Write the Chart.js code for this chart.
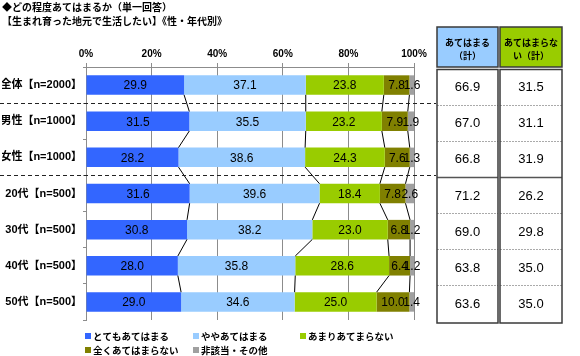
<!DOCTYPE html>
<html><head><meta charset="utf-8">
<script src="https://cdn.jsdelivr.net/npm/chart.js@4"></script>
<style>html,body{margin:0;padding:0;background:#fff}#wrap{width:580px;height:356px;position:relative}</style>
</head><body><div id="wrap"><canvas id="c" width="580" height="356"></canvas></div>
<script>
// ---- data ----
const titleLines = ['◆どの程度あてはまるか（単一回答）', '【生まれ育った地元で生活したい】《性・年代別》'];
const categories = ['全体【n=2000】', '男性【n=1000】', '女性【n=1000】', '20代【n=500】', '30代【n=500】', '40代【n=500】', '50代【n=500】'];
const seriesNames = ['とてもあてはまる', 'ややあてはまる', 'あまりあてまらない', '全くあてはまらない', '非該当・その他'];
const veryTrue = [29.9, 31.5, 28.2, 31.6, 30.8, 28.0, 29.0];
const somewhatTrue = [37.1, 35.5, 38.6, 39.6, 38.2, 35.8, 34.6];
const notReally = [23.8, 23.2, 24.3, 18.4, 23.0, 28.6, 25.0];
const notAtAll = [7.8, 7.9, 7.6, 7.8, 6.8, 6.4, 10.0];
const notApplicable = [1.6, 1.9, 1.3, 2.6, 1.2, 1.2, 1.4];
const xTickLabels = ['0%', '20%', '40%', '60%', '80%', '100%'];
const tableHeaders = [['あてはまる', '（計）'], ['あてはまらな', 'い（計）']];
const totalTrue = [66.9, 67.0, 66.8, 71.2, 69.0, 63.8, 63.6];
const totalNotTrue = [31.5, 31.1, 31.9, 26.2, 29.8, 35.0, 35.0];
const groupBreaks = [0, 2];

// ---- styles ----
const colors = ['#3366ff', '#99ccff', '#99cc00', '#808000', '#a0a0a0'];
const JP = "'Noto Sans CJK JP', sans-serif";
const MIX = "'Liberation Sans', 'Noto Sans CJK JP', sans-serif";

const barLabels = {
  id: 'barLabels',
  afterDatasetsDraw(chart) {
    const ctx = chart.ctx;
    ctx.save();
    ctx.font = "12px 'Liberation Sans', sans-serif";
    ctx.fillStyle = '#000';
    ctx.textAlign = 'center';
    ctx.textBaseline = 'middle';
    chart.data.datasets.forEach((ds, di) => {
      chart.getDatasetMeta(di).data.forEach((el, i) => {
        const p = el.getProps(['x', 'base', 'y'], true);
        ctx.fillText(ds.data[i].toFixed(1), (p.x + p.base) / 2, p.y + 1);
      });
    });
    ctx.restore();
  }
};

const connectors = {
  id: 'connectors',
  afterDatasetsDraw(chart) {
    const ctx = chart.ctx;
    ctx.save();
    ctx.strokeStyle = '#000';
    ctx.lineWidth = 1;
    for (let di = 0; di < chart.data.datasets.length - 1; di++) {
      const els = chart.getDatasetMeta(di).data;
      for (let i = 0; i < els.length - 1; i++) {
        const a = els[i].getProps(['x', 'y', 'height'], true);
        const b = els[i + 1].getProps(['x', 'y', 'height'], true);
        ctx.beginPath();
        ctx.moveTo(a.x, a.y + a.height / 2);
        ctx.lineTo(b.x, b.y - b.height / 2);
        ctx.stroke();
      }
    }
    ctx.restore();
  }
};

const separators = {
  id: 'separators',
  afterDatasetsDraw(chart) {
    const ctx = chart.ctx, ys = chart.scales.y;
    ctx.save();
    ctx.strokeStyle = '#222';
    ctx.lineWidth = 1;
    ctx.setLineDash([4, 3]);
    groupBreaks.forEach(i => {
      const y = Math.round((ys.getPixelForValue(i) + ys.getPixelForValue(i + 1)) / 2) + 0.5;
      ctx.beginPath();
      ctx.moveTo(0, y);
      ctx.lineTo(436, y);
      ctx.stroke();
    });
    ctx.restore();
  }
};

const table = {
  id: 'table',
  afterDraw(chart) {
    const ctx = chart.ctx, ys = chart.scales.y, ca = chart.chartArea;
    const step = ys.getPixelForValue(1) - ys.getPixelForValue(0);
    const cols = [
      { x0: 437, x1: 498, fill: '#99ccff', vals: totalTrue, head: tableHeaders[0] },
      { x0: 500, x1: 562, fill: '#99cc00', vals: totalNotTrue, head: tableHeaders[1] }
    ];
    const headTop = 27, headBot = ca.top;
    const bodyTop = ca.top + 2.5;
    const bodyBot = ys.getPixelForValue(categories.length - 1) + step / 2 + 3;
    ctx.save();
    cols.forEach(c => {
      const w = c.x1 - c.x0, cx = (c.x0 + c.x1) / 2;
      ctx.fillStyle = c.fill;
      ctx.fillRect(c.x0, headTop, w, headBot - headTop);
      ctx.strokeStyle = '#3a3a3a';
      ctx.lineWidth = 1.5;
      ctx.strokeRect(c.x0, headTop, w, headBot - headTop);
      ctx.fillStyle = '#000';
      ctx.font = "bold 9px " + JP;
      ctx.textAlign = 'center';
      ctx.textBaseline = 'middle';
      ctx.fillText(c.head[0], cx, headTop + 16);
      ctx.fillText(c.head[1], cx, headTop + 28.5);
      ctx.fillStyle = '#fff';
      ctx.fillRect(c.x0, bodyTop, w, bodyBot - bodyTop);
      // row separators
      for (let i = 0; i < categories.length - 1; i++) {
        const y = Math.round(ys.getPixelForValue(i) + step / 2 + 1.5) + 0.5;
        ctx.beginPath();
        if (i === 2) { ctx.setLineDash([]); ctx.strokeStyle = '#555'; ctx.lineWidth = 1.5; }
        else { ctx.setLineDash([2, 1]); ctx.strokeStyle = '#aaa'; ctx.lineWidth = 1; }
        ctx.moveTo(c.x0, y); ctx.lineTo(c.x1, y);
        ctx.stroke();
      }
      ctx.setLineDash([]);
      ctx.strokeStyle = '#3a3a3a';
      ctx.lineWidth = 1.5;
      ctx.strokeRect(c.x0, bodyTop, w, bodyBot - bodyTop);
      ctx.fillStyle = '#000';
      ctx.font = "13px 'Liberation Sans', sans-serif";
      c.vals.forEach((v, i) => {
        ctx.fillText(v.toFixed(1), cx, ys.getPixelForValue(i) + 2.5);
      });
    });
    ctx.restore();
  }
};

const legendBoxes = {
  id: 'legendBoxes',
  afterDraw(chart) {
    const ctx = chart.ctx;
    const colXs = [85, 193, 300], rowYs = [336, 350];
    ctx.save();
    ctx.font = "bold 9.5px " + JP;
    ctx.textAlign = 'left';
    ctx.textBaseline = 'middle';
    chart.data.datasets.forEach((ds, i) => {
      const x = colXs[i % 3], y = rowYs[Math.floor(i / 3)];
      ctx.fillStyle = ds.backgroundColor;
      ctx.fillRect(x, y - 3, 6, 6);
      ctx.fillStyle = '#000';
      ctx.fillText(ds.label, x + 8, y);
    });
    ctx.restore();
  }
};

const seriesData = [veryTrue, somewhatTrue, notReally, notAtAll, notApplicable];
const datasets = seriesData.map((d, i) => ({
  label: seriesNames[i], data: d, backgroundColor: colors[i], borderWidth: 0,
  barPercentage: 0.54, categoryPercentage: 1
}));

new Chart(document.getElementById('c'), {
  type: 'bar',
  data: { labels: categories, datasets },
  options: {
    indexAxis: 'y', responsive: false, animation: false,
    layout: { padding: { left: 2, right: 166, top: 0, bottom: 36 } },
    plugins: {
      legend: { display: false },
      tooltip: { enabled: false },
      title: {
        display: true, text: titleLines, align: 'start', color: '#000',
        font: { family: JP, size: 10, weight: 'bold', lineHeight: 1.4 },
        padding: { top: 0, bottom: 0 }
      }
    },
    scales: {
      x: {
        position: 'top', stacked: true, min: 0, max: 100,
        ticks: { stepSize: 20, callback: (v, i) => xTickLabels[i], color: '#000',
          font: { family: "'Liberation Sans', sans-serif", size: 10, weight: 'bold' }, padding: 3, maxRotation: 0 },
        grid: { color: '#8c8c8c', lineWidth: 1, tickLength: 4, drawTicks: true },
        border: { color: '#8c8c8c' },
        afterFit: s => { s.height = 39; }
      },
      y: {
        stacked: true,
        ticks: { color: '#000', font: { family: MIX, size: 11, weight: 'bold' }, padding: 1, autoSkip: false },
        grid: { offset: true, drawOnChartArea: false, tickLength: 3, color: '#8c8c8c' },
        border: { color: '#8c8c8c' },
        afterFit: s => { s.width = 84; }
      }
    }
  },
  plugins: [connectors, barLabels, separators, table, legendBoxes]
});
</script>
</body></html>
